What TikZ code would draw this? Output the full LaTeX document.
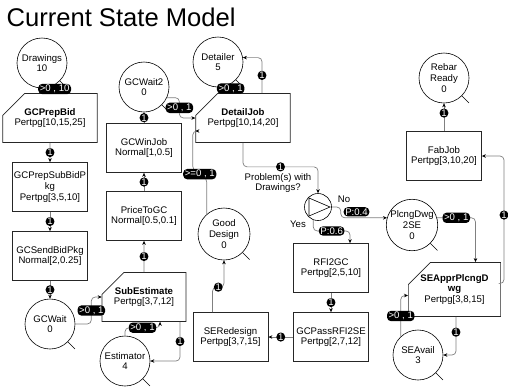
\documentclass[tikz,border=0pt]{standalone}
\usepackage{fontspec}
\setmainfont{Liberation Sans}
\usetikzlibrary{shapes.geometric, shapes.misc, arrows.meta, positioning, calc}
\newcommand{\boxfont}{\fontsize{9.6}{10.6}\selectfont}
\newcommand{\tagfont}{\fontsize{9.6}{10}\selectfont}

\begin{document}
\begin{tikzpicture}[x=1pt, y=-1pt]
        \tikzstyle{place} = [circle, draw=black, line width=0.6pt, minimum size=50pt, inner sep=0pt, align=center, font=\boxfont]
        \tikzstyle{activity} = [rectangle, draw=black!85, line width=0.7pt, minimum width=75pt, minimum height=49pt, inner sep=1pt, align=center, font=\boxfont]
        \tikzstyle{batch} = [activity, chamfered rectangle, chamfered rectangle corners=north west, chamfered rectangle xsep=11pt, chamfered rectangle ysep=11pt]
        \tikzstyle{flow} = [draw=black!50, line width=0.7pt, rounded corners=4pt, -{Stealth[length=4pt,width=3.5pt,color=black]}]
        \tikzstyle{tag} = [rectangle, fill=black, text=white, font=\tagfont, inner xsep=1.6pt, inner ysep=1.2pt]
        \tikzstyle{tail} = [draw=black, line width=0.6pt]

        \useasboundingbox (0,0) rectangle (508,389);

        \node (title) [anchor=base west, font=\fontsize{25.6}{30}\selectfont] at (3,26.5) {Current State Model};

        % places
        \node (drawings) [place] at (42,63) {Drawings\\10};
        \node (gcwait2) [place] at (144,87) {GCWait2\\0};
        \node (detailer) [place] at (218,62) {Detailer\\5};
        \node (rebar) [place] at (444,78) {Rebar\\Ready\\0};
        \node (gcwait) [place] at (50,324) {GCWait\\0};
        \node (estimator) [place] at (125,361) {Estimator\\4};
        \node (good) [place, minimum size=52pt] at (224,234) {Good\\Design\\0};
        \node (plcng) [place] at (412,225) {PlcngDwg\\2SE\\0};
        \node (seavail) [place] at (418,355) {SEAvail\\3};
        \node (dec) [circle, draw=black, line width=0.6pt, minimum size=27pt] at (318,207) {};
        \draw [line width=0.6pt] (dec.center) ++(-9,-9) -- ++(0,18) -- ++(21,-9) -- cycle;

        \draw [tail] (drawings.-45) -- ++(7,7);
        \draw [tail] (gcwait2.-45) -- ++(7,7);
        \draw [tail] (detailer.-45) -- ++(7,7);
        \draw [tail] (rebar.-45) -- ++(7,7);
        \draw [tail] (gcwait.-45) -- ++(7,7);
        \draw [tail] (estimator.-45) -- ++(7,7);
        \draw [tail] (good.-45) -- ++(7,7);
        \draw [tail] (plcng.-45) -- ++(7,7);
        \draw [tail] (seavail.-45) -- ++(7,7);

        % activities
        \node (prepbid) [batch] at (50,118) {\textbf{GCPrepBid}\\Pertpg[10,15,25]};
        \node (subbid) [activity] at (50,187) {GCPrepSubBidP\\kg\\Pertpg[3,5,10]};
        \node (sendbid) [activity] at (50,256) {GCSendBidPkg\\Normal[2,0.25]};
        \node (winjob) [activity] at (144,148) {GCWinJob\\Normal[1,0.5]};
        \node (price) [activity] at (144,216) {PriceToGC\\Normal[0.5,0.1]};
        \node (subest) [batch] at (144,297) {\textbf{SubEstimate}\\Pertpg[3,7,12]};
        \node (detailjob) [batch] at (243,118) {\textbf{DetailJob}\\Pertpg[10,14,20]};
        \node (fabjob) [activity] at (444,156) {FabJob\\Pertpg[3,10,20]};
        \node (rfi) [activity] at (331,268) {RFI2GC\\Pertpg[2,5,10]};
        \node (gcpass) [activity] at (331,337) {GCPassRFI2SE\\Pertpg[2,7,12]};
        \node (sered) [activity] at (230.5,337) {SERedesign\\Pertpg[3,7,15]};
        \node (seappr) [batch, minimum height=45pt] at (454.5,289.5) {\textbf{SEApprPlcngD}\\\textbf{wg}\\Pertpg[3,8,15]};

        \node (declabel) [align=center, font=\boxfont] at (278,183) {Problem(s) with\\Drawings?};
        \node (nolbl) [font=\boxfont] at (344,199) {No};
        \node (yeslbl) [font=\boxfont] at (298,224) {Yes};

        % connectors
        \draw [flow] (drawings.-60) -- node[tag] {>0 , 10} (drawings.-60 |- prepbid.north);
        \draw [flow] (prepbid) -- node[tag] {1} (subbid);
        \draw [flow] (subbid) -- node[tag] {1} (sendbid);
        \draw [flow] (sendbid) -- node[tag] {1} (gcwait);
        \draw [flow] (gcwait.east) -- ++(16,0) |- node[tag, pos=0.25] {>0 , 1} (subest.west);
        \draw [flow] (estimator.north) -- ++(0,-8) -| node[tag, pos=0.25] {>0 , 1} ([xshift=16pt]subest.south);
        \draw [flow] ([xshift=36pt]subest.south) |- node[tag, pos=0.25] {1} (estimator.east);
        \draw [flow] (subest) -- node[tag] {1} (price);
        \draw [flow] (price) -- node[tag] {1} (winjob);
        \draw [flow] (winjob) -- node[tag] {1} (gcwait2);
        \draw [flow] (gcwait2.-25) -| node[tag, pos=0.75] {>0 , 1} ($(detailjob.west)+(-16,0)$) -- (detailjob.west);
        \draw [flow] (good.131) -- ++(0,-36) -- node[tag] {>=0 , 1} ++(-14,-8) |- ([yshift=-13pt]detailjob.west);
        \draw [flow] (detailer.-60) -- node[tag] {>0 , 1} (detailer.-60 |- detailjob.north);
        \draw [flow] ([xshift=19pt]detailjob.north) |- node[tag, pos=0.25] {1} (detailer.10);
        \draw [flow] (detailjob.south) -- ++(0,24) -| node[tag, pos=0.25] {1} (dec.north);
        \draw [flow] (dec.east) -- ++(9,0) |- node[tag, pos=0.67, yshift=6pt] {P:0.4} (plcng.164);
        \draw [flow] (dec.-110) -- ++(0,11) -| node[tag, pos=0.25] {P:0.6} ([xshift=19pt]rfi.north);
        \draw [flow] (rfi) -- node[tag] {1} (gcpass);
        \draw [flow] (gcpass) -- node[tag] {1} (sered);
        \draw [flow] ([xshift=-18pt]sered.north) -- ++(0,-25) -| node[tag, pos=0.25] {1} (good.south);
        \draw [flow] (plcng.16) -| node[tag, pos=0.25] {>0 , 1} ([xshift=21pt]seappr.north);
        \coordinate (rtturn) at (504,215);
        \draw [flow] ([yshift=6pt]seappr.east) -| (rtturn) node[tag] {1} |- (fabjob.east);
        \draw [flow] (fabjob) -- node[tag, pos=0.65] {1} (rebar);
        \draw [flow] ([xshift=1.5pt]seappr.south) |- node[tag, pos=0.2] {1} (seavail.east);
        \draw [flow] (seavail.133) |- node[tag, pos=0.25] {>0 , 1} ([yshift=-6pt]seappr.west);
\end{tikzpicture}
\end{document}
